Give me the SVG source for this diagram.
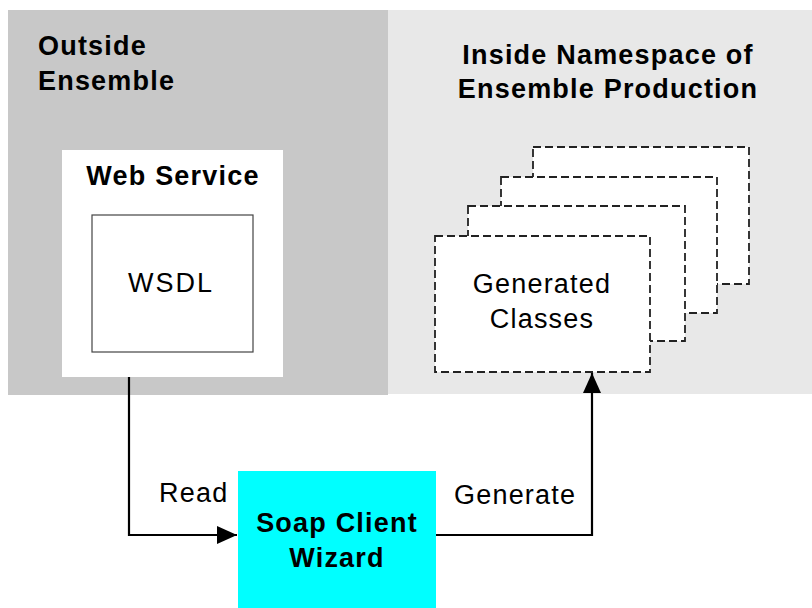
<svg xmlns="http://www.w3.org/2000/svg" width="812" height="608" viewBox="0 0 812 608">
<defs>
<style>
.bold{font-family:"Liberation Sans",Arial,sans-serif;font-weight:bold;font-size:27px;letter-spacing:1.2px;fill:#000}
.reg{font-family:"Liberation Sans",Arial,sans-serif;font-size:27px;letter-spacing:1.2px;fill:#000}
.dash{fill:#fff;stroke:#222;stroke-width:1.8;stroke-dasharray:8 4}
.conn{fill:none;stroke:#000;stroke-width:2.2}
</style>
<marker id="arrow" viewBox="0 0 20 18" refX="20" refY="9" markerWidth="20" markerHeight="18" markerUnits="userSpaceOnUse" orient="auto">
<path d="M0,0 L20,9 L0,18 Z" fill="#000"/>
</marker>
</defs>
<rect width="812" height="608" fill="#fff"/>
<g id="outside-ensemble">
<rect x="8" y="10" width="380" height="385" fill="#c8c8c8"/>
<text class="bold" x="38" y="55">Outside</text>
<text class="bold" x="38" y="90">Ensemble</text>
</g>
<g id="inside-namespace">
<rect x="388" y="10" width="424" height="384" fill="#e8e8e8"/>
<text class="bold" x="608" y="64" text-anchor="middle">Inside Namespace of</text>
<text class="bold" x="608" y="98" text-anchor="middle">Ensemble Production</text>
</g>
<g id="web-service">
<rect x="62" y="150" width="221" height="227" fill="#fff"/>
<text class="bold" x="173" y="185" text-anchor="middle">Web Service</text>
</g>
<g id="wsdl">
<rect x="92" y="215" width="161" height="137" fill="#fff" stroke="#444" stroke-width="1.2"/>
<text class="reg" x="171" y="292" text-anchor="middle" style="letter-spacing:2px">WSDL</text>
</g>
<g id="generated-classes">
<rect class="dash" x="533" y="147" width="216" height="137"/>
<rect class="dash" x="501" y="177" width="216" height="136"/>
<rect class="dash" x="468" y="206" width="217" height="135"/>
<rect class="dash" x="435" y="236" width="215" height="136"/>
<text class="reg" x="542" y="293" text-anchor="middle">Generated</text>
<text class="reg" x="542" y="328" text-anchor="middle">Classes</text>
</g>
<g id="soap-client-wizard">
<rect x="238" y="471" width="198" height="137" fill="#00ffff"/>
<text class="bold" x="337" y="532" text-anchor="middle">Soap Client</text>
<text class="bold" x="337" y="567" text-anchor="middle">Wizard</text>
</g>
<g id="connectors">
<path class="conn" d="M129,377 V535 H237" marker-end="url(#arrow)"/>
<path class="conn" d="M436,535 H592 V373" marker-end="url(#arrow)"/>
<text class="reg" x="159" y="502">Read</text>
<text class="reg" x="454" y="504">Generate</text>
</g>
</svg>
